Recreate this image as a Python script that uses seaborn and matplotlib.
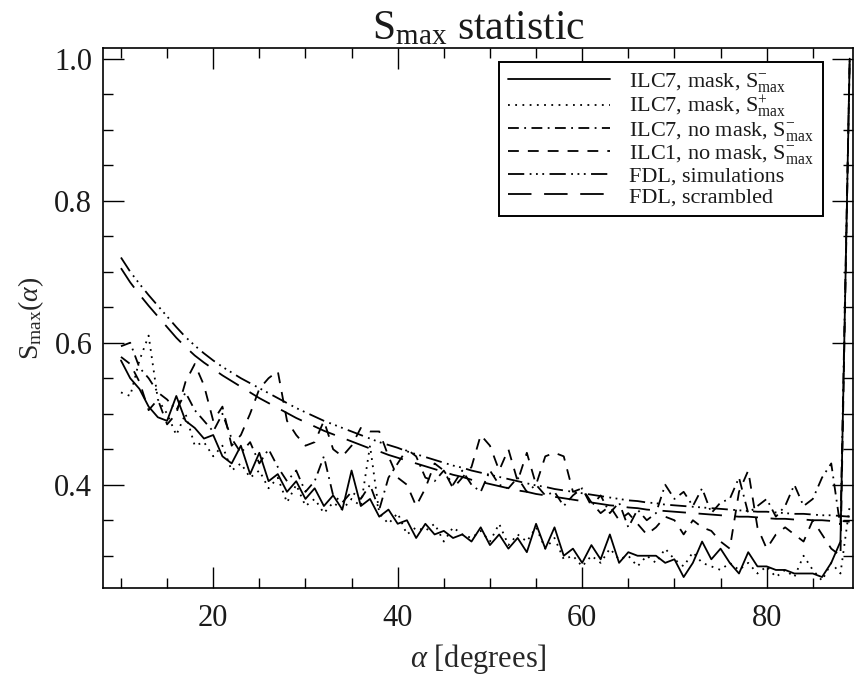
import numpy as np
import pandas as pd
import seaborn as sns
import matplotlib.pyplot as plt
from matplotlib.lines import Line2D
from matplotlib.ticker import MultipleLocator

sns.set_theme(style="ticks")
plt.rcParams["font.family"] = ["Liberation Serif", "DejaVu Serif"]
plt.rcParams["mathtext.fontset"] = "custom"
plt.rcParams["mathtext.rm"] = "Liberation Serif"
plt.rcParams["mathtext.it"] = "Liberation Serif:italic"
plt.rcParams["text.color"] = "#1a1a1a"

# angles in degrees
alpha = list(range(10, 90))

ilc7_mask_minus = [
    0.575, 0.55, 0.535, 0.51, 0.495, 0.49, 0.525, 0.49, 0.48, 0.465,
    0.47, 0.44, 0.43, 0.455, 0.415, 0.445, 0.405, 0.415, 0.39, 0.405,
    0.38, 0.395, 0.37, 0.385, 0.365, 0.42, 0.37, 0.38, 0.355, 0.365,
    0.345, 0.35, 0.325, 0.345, 0.33, 0.335, 0.325, 0.33, 0.32, 0.34,
    0.315, 0.33, 0.31, 0.325, 0.305, 0.345, 0.31, 0.34, 0.30, 0.31,
    0.29, 0.315, 0.295, 0.33, 0.29, 0.305, 0.30, 0.30, 0.30, 0.29,
    0.295, 0.27, 0.29, 0.32, 0.295, 0.31, 0.29, 0.275, 0.305, 0.285,
    0.285, 0.28, 0.28, 0.275, 0.275, 0.275, 0.27, 0.29, 0.32,
    1.0]

ilc7_mask_plus = [
    0.53, 0.525, 0.575, 0.61, 0.52, 0.50, 0.47, 0.50, 0.455, 0.46,
    0.44, 0.455, 0.42, 0.43, 0.41, 0.42, 0.395, 0.41, 0.375, 0.40,
    0.37, 0.38, 0.36, 0.375, 0.365, 0.38, 0.37, 0.455, 0.36, 0.345,
    0.36, 0.33, 0.34, 0.335, 0.345, 0.32, 0.34, 0.33, 0.325, 0.335,
    0.32, 0.345, 0.315, 0.33, 0.32, 0.34, 0.31, 0.325, 0.295, 0.30,
    0.285, 0.30, 0.29, 0.31, 0.295, 0.30, 0.285, 0.30, 0.29, 0.31,
    0.295, 0.285, 0.305, 0.29, 0.285, 0.28, 0.29, 0.28, 0.29, 0.275,
    0.285, 0.27, 0.28, 0.27, 0.30, 0.28, 0.265, 0.29, 0.275,
    0.37]

ilc7_nomask = [
    0.595, 0.60, 0.565, 0.55, 0.53, 0.52, 0.505, 0.53, 0.505, 0.49,
    0.475, 0.50, 0.465, 0.445, 0.46, 0.43, 0.45, 0.425, 0.405, 0.42,
    0.39, 0.405, 0.44, 0.385, 0.375, 0.39, 0.38, 0.40, 0.365, 0.41,
    0.43, 0.45, 0.44, 0.41, 0.405, 0.42, 0.40, 0.42, 0.40, 0.39,
    0.42, 0.40, 0.395, 0.41, 0.39, 0.40, 0.385, 0.39, 0.37, 0.385,
    0.395, 0.37, 0.385, 0.36, 0.375, 0.34, 0.365, 0.35, 0.36, 0.40,
    0.38, 0.39, 0.37, 0.395, 0.36, 0.375, 0.38, 0.41, 0.36, 0.37,
    0.38, 0.355, 0.37, 0.40, 0.37, 0.38, 0.41, 0.43, 0.34,
    1.0]

ilc1_nomask = [
    0.58, 0.57, 0.545, 0.505, 0.52, 0.485, 0.50, 0.545, 0.57, 0.54,
    0.49, 0.51, 0.455, 0.47, 0.50, 0.535, 0.55, 0.56, 0.49, 0.47,
    0.455, 0.46, 0.49, 0.45, 0.44, 0.455, 0.48, 0.475, 0.475, 0.44,
    0.41, 0.40, 0.37, 0.395, 0.43, 0.42, 0.395, 0.41, 0.425, 0.47,
    0.455, 0.42, 0.45, 0.405, 0.445, 0.40, 0.44, 0.445, 0.44, 0.39,
    0.395, 0.375, 0.36, 0.37, 0.35, 0.36, 0.345, 0.33, 0.34, 0.355,
    0.35, 0.33, 0.35, 0.34, 0.335, 0.32, 0.31, 0.39, 0.42, 0.34,
    0.31, 0.33, 0.34, 0.33, 0.32, 0.35, 0.33, 0.31, 0.30,
    1.0]

fdl_sim = [
    0.72, 0.70, 0.683, 0.667, 0.652, 0.637, 0.622, 0.608, 0.596, 0.585,
    0.575, 0.566, 0.558, 0.550, 0.543, 0.536, 0.529, 0.522, 0.515, 0.508,
    0.502, 0.496, 0.490, 0.485, 0.480, 0.475, 0.470, 0.465, 0.460, 0.456,
    0.452, 0.447, 0.443, 0.439, 0.435, 0.431, 0.427, 0.424, 0.420, 0.417,
    0.414, 0.411, 0.408, 0.405, 0.402, 0.399, 0.397, 0.394, 0.392, 0.390,
    0.388, 0.386, 0.384, 0.382, 0.380, 0.378, 0.377, 0.375, 0.374, 0.372,
    0.371, 0.370, 0.369, 0.368, 0.367, 0.366, 0.365, 0.364, 0.363, 0.362,
    0.362, 0.361, 0.360, 0.359, 0.359, 0.358, 0.357, 0.357, 0.356, 0.355]

fdl_scrambled = [
    0.705, 0.685, 0.668, 0.652, 0.637, 0.622, 0.607, 0.594, 0.582, 0.572,
    0.563, 0.554, 0.546, 0.538, 0.530, 0.522, 0.515, 0.508, 0.501, 0.494,
    0.488, 0.482, 0.476, 0.471, 0.466, 0.461, 0.456, 0.451, 0.447, 0.442,
    0.438, 0.434, 0.430, 0.426, 0.422, 0.418, 0.414, 0.411, 0.407, 0.404,
    0.401, 0.398, 0.395, 0.392, 0.390, 0.387, 0.385, 0.383, 0.381, 0.379,
    0.377, 0.375, 0.373, 0.371, 0.370, 0.368, 0.367, 0.365, 0.364, 0.363,
    0.362, 0.361, 0.360, 0.359, 0.358, 0.357, 0.356, 0.355, 0.355, 0.354,
    0.353, 0.352, 0.352, 0.351, 0.351, 0.350, 0.350, 0.349, 0.349, 0.348]

labels = [
    r"ILC7, mask, S$^{-}_{\rm max}$",
    r"ILC7, mask, S$^{+}_{\rm max}$",
    r"ILC7, no mask, S$^{-}_{\rm max}$",
    r"ILC1, no mask, S$^{-}_{\rm max}$",
    "FDL, simulations",
    "FDL, scrambled",
]
series = [ilc7_mask_minus, ilc7_mask_plus, ilc7_nomask, ilc1_nomask,
          fdl_sim, fdl_scrambled]
dashes = {
    labels[0]: "",
    labels[1]: (1, 3),
    labels[2]: (6, 3, 1, 3),
    labels[3]: (6, 5),
    labels[4]: (9, 3, 1, 2.5, 1, 2.5, 1, 3),
    labels[5]: (13, 7),
}

df = pd.concat(
    [pd.DataFrame({"alpha": alpha, "S": s, "series": lab}) for lab, s in zip(labels, series)],
    ignore_index=True)

fig, ax = plt.subplots(figsize=(8.62, 6.81), dpi=100)
fig.subplots_adjust(left=0.12, right=0.99, top=0.9295, bottom=0.137)

sns.lineplot(data=df, x="alpha", y="S", style="series", style_order=labels,
             dashes=dashes, color="black", linewidth=1.3, legend=False, ax=ax)

ax.set_xlim(8.1, 89.4)
ax.set_ylim(0.255, 1.015)
ax.xaxis.set_major_locator(MultipleLocator(20))
ax.xaxis.set_minor_locator(MultipleLocator(5))
ax.yaxis.set_major_locator(MultipleLocator(0.2))
ax.yaxis.set_minor_locator(MultipleLocator(0.05))
ax.tick_params(which="both", direction="in", top=True, right=True,
               labelsize=22, color="black", labelcolor="#1a1a1a", width=1)
ax.tick_params(which="major", length=15)
ax.tick_params(which="minor", length=7)
ax.tick_params(axis="x", which="major", pad=12)
ax.tick_params(axis="y", which="major", pad=8)
for sp in ax.spines.values():
    sp.set_linewidth(1.2)
    sp.set_color("black")

ax.set_xlabel(r"$\alpha$ [degrees]", fontsize=22, labelpad=6)
ax.set_ylabel(r"S$_{\rm max}(\alpha)$", fontsize=20, labelpad=6)
ax.set_title(r"S$_{\rm max}$ statistic", fontsize=30, pad=5)

handles = [Line2D([], [], color="black", linewidth=1.3,
                  linestyle="-" if dashes[lab] == "" else (0, dashes[lab]))
           for lab in labels]
leg = ax.legend(handles, labels, loc="upper right", bbox_to_anchor=(0.96, 0.974),
                borderaxespad=0, fontsize=16, handlelength=4.6, handletextpad=0.85,
                labelspacing=0.0, fancybox=False, framealpha=1, edgecolor="black",
                borderpad=0.4)
leg.get_frame().set_linewidth(1.4)

fig.savefig("out.png", dpi=100)
